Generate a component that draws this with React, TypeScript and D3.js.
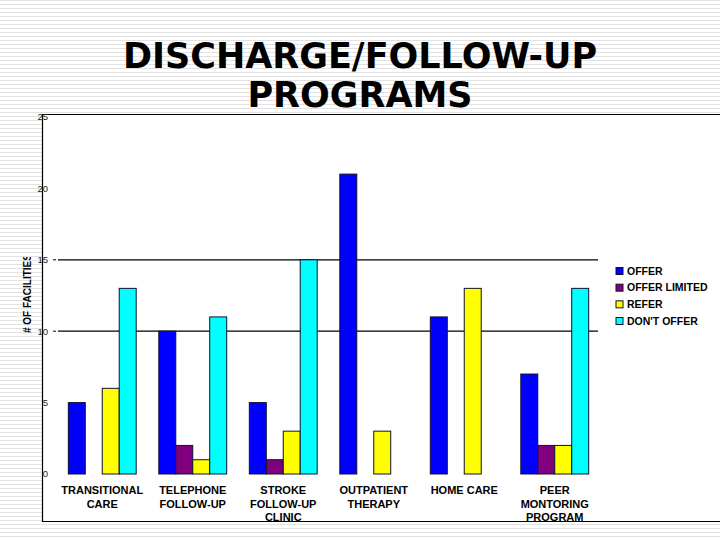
import React from "react";
import * as d3 from "d3";

const categories = [
  ["TRANSITIONAL", "CARE"],
  ["TELEPHONE", "FOLLOW-UP"],
  ["STROKE", "FOLLOW-UP", "CLINIC"],
  ["OUTPATIENT", "THERAPY"],
  ["HOME CARE"],
  ["PEER", "MONTORING", "PROGRAM"],
];
const seriesNames = ["OFFER", "OFFER LIMITED", "REFER", "DON'T OFFER"];
const seriesColors = ["#0000ff", "#800080", "#ffff00", "#00ffff"];
const offer = [5, 10, 5, 21, 11, 7];
const offerLimited = [0, 2, 1, 0, 0, 2];
const refer = [6, 1, 3, 3, 13, 2];
const dontOffer = [13, 11, 15, 0, 0, 13];
const yTicks = [0, 5, 10, 15, 20, 25];
const gridTicks = [10, 15];

const W = 720;
const H = 540;

export default function App() {
  const values = [offer, offerLimited, refer, dontOffer];
  const x0 = d3
    .scaleBand<number>()
    .domain(d3.range(categories.length))
    .range([57, 600])
    .paddingInner(0.25)
    .paddingOuter(0.125);
  const x1 = d3
    .scaleBand<number>()
    .domain(d3.range(seriesNames.length))
    .range([0, x0.bandwidth()]);
  const y = d3.scaleLinear().domain([0, 25]).range([474, 117]);

  const legendY = d3.scalePoint<number>().domain(d3.range(4)).range([271, 321]);

  return (
    <div style={{ position: "absolute", left: 0, top: 0 }}>
      <svg width={W} height={H} style={{ display: "block" }}>
        <defs>
          <pattern id="stripes" width="8" height="4" patternUnits="userSpaceOnUse">
            <rect width="8" height="4" fill="#ffffff" />
            <rect y="0" width="8" height="1" fill="#e2e2e2" />
          </pattern>
          <clipPath id="ytitleclip">
            <rect x="0" y="257" width="60" height="200" />
          </clipPath>
        </defs>
        <rect width={W} height={H} fill="url(#stripes)" />
        <rect x={42} y={114} width={W - 42} height={522 - 114} fill="#ffffff" />
        <line x1={42} y1={114.5} x2={W} y2={114.5} stroke="#000" strokeWidth={1.2} />
        <line x1={42} y1={521.5} x2={W} y2={521.5} stroke="#000" strokeWidth={1.2} />
        <line x1={42.5} y1={114} x2={42.5} y2={522} stroke="#000" strokeWidth={1.2} />

        {/* title */}
        <text
          x={360}
          textAnchor="middle"
          fontFamily="DejaVu Sans, Verdana, sans-serif"
          fontWeight="bold"
          fontSize={35}
          fill="#000"
        >
          <tspan x={360} y={68}>DISCHARGE/FOLLOW-UP</tspan>
          <tspan x={360} y={107}>PROGRAMS</tspan>
        </text>

        {/* gridlines */}
        {gridTicks.map((t) => (
          <g key={t}>
            <line x1={53} x2={56} y1={y(t)} y2={y(t)} stroke="#000" strokeWidth={1} />
            <line x1={58} x2={598} y1={y(t)} y2={y(t)} stroke="#000" strokeWidth={1.2} />
          </g>
        ))}

        {/* y tick labels */}
        {yTicks.map((t) => (
          <text
            key={t}
            x={48}
            y={y(t)}
            dy="0.35em"
            textAnchor="end"
            fontFamily="Liberation Sans, Arial, sans-serif"
            fontSize={9.5}
            fill="#222"
          >
            {t}
          </text>
        ))}

        {/* y title */}
        <g clipPath="url(#ytitleclip)">
          <text
            transform={`translate(30.5,333) rotate(-90)`}
            fontFamily="Liberation Sans, Arial, sans-serif"
            fontWeight="bold"
            fontSize={10}
            fill="#000"
          >
            # OF FACILITIES
          </text>
        </g>

        {/* bars */}
        {categories.map((_, ci) => (
          <g key={ci} transform={`translate(${x0(ci)},0)`}>
            {values.map((arr, si) =>
              arr[ci] > 0 ? (
                <rect
                  key={si}
                  x={x1(si)}
                  y={y(arr[ci])}
                  width={x1.bandwidth()}
                  height={y(0) - y(arr[ci])}
                  fill={seriesColors[si]}
                  stroke="#101030"
                  strokeWidth={1}
                />
              ) : null
            )}
          </g>
        ))}

        {/* category labels */}
        {categories.map((lines, ci) => (
          <text
            key={ci}
            textAnchor="middle"
            fontFamily="Liberation Sans, Arial, sans-serif"
            fontWeight="bold"
            fontSize={11}
            fill="#000"
          >
            {lines.map((l, li) => (
              <tspan key={li} x={(x0(ci) as number) + x0.bandwidth() / 2} y={494 + li * 13.5}>
                {l}
              </tspan>
            ))}
          </text>
        ))}

        {/* legend */}
        {seriesNames.map((n, si) => (
          <g key={n} transform={`translate(616,${legendY(si)})`}>
            <rect x={0} y={-3.5} width={7} height={7} fill={seriesColors[si]} stroke="#101030" strokeWidth={1} />
            <text
              x={11}
              y={0}
              dy="0.35em"
              fontFamily="Liberation Sans, Arial, sans-serif"
              fontWeight="bold"
              fontSize={10.5}
              fill="#000"
            >
              {n}
            </text>
          </g>
        ))}
      </svg>
    </div>
  );
}
